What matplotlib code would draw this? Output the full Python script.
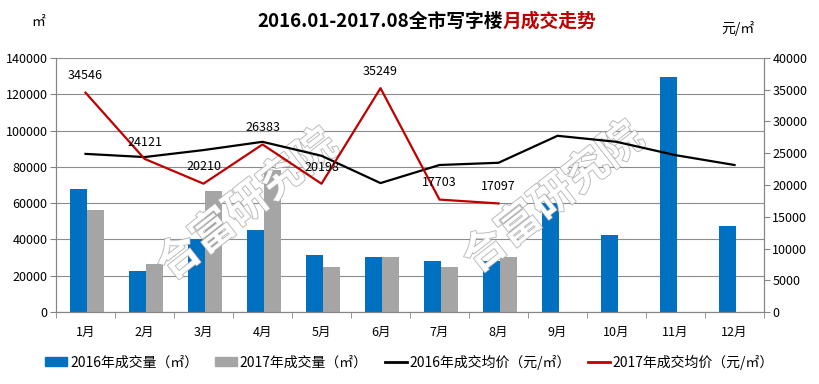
import matplotlib
matplotlib.use("Agg")
import matplotlib.pyplot as plt
import matplotlib.patheffects as pe
from matplotlib.lines import Line2D
from matplotlib.patches import Patch
import numpy as np

plt.rcParams['font.family'] = ['Noto Sans CJK SC', 'DejaVu Sans']

months = ['1月', '2月', '3月', '4月', '5月', '6月', '7月', '8月', '9月', '10月', '11月', '12月']
vol_2016 = [68000, 22800, 40000, 45200, 31400, 30300, 28100, 28100, 60000, 42400, 129500, 47400]
vol_2017 = [56200, 26400, 66700, 78200, 24800, 30300, 24800, 30300]
price_2016 = [24900, 24400, 25500, 26800, 24600, 20300, 23150, 23500, 27750, 26800, 24700, 23150]
price_2017 = [34546, 24121, 20210, 26383, 20198, 35249, 17703, 17097]

blue = '#0070C0'
grey = '#A5A5A5'
red = '#C00000'
axis_col = '#868686'

fig = plt.figure(figsize=(8.19, 3.84), dpi=100)
ax = fig.add_axes([56/819, 1 - 312/384, (764 - 56)/819, (312 - 58)/384])
ax2 = ax.twinx()

x = np.arange(len(months))
x17 = np.arange(len(vol_2017))
w = 0.29
ax.bar(x - w/2 + 0.02, vol_2016, width=w, color=blue, zorder=2)
ax.bar(x17 + w/2 + 0.02, vol_2017, width=w, color=grey, zorder=2)

ax.set_xlim(-0.5, 11.5)
ax.set_ylim(0, 140000)
ax.set_yticks(np.arange(0, 140001, 20000))
ax.yaxis.grid(True, color='#8c8c8c', linewidth=0.8, zorder=0)
ax.set_axisbelow(True)
ax.set_xticks(x)
ax.set_xticklabels(months, fontsize=9)
ax.set_xticks(np.arange(-0.5, 12, 1), minor=True)
ax.tick_params(axis='x', which='major', length=0, pad=10)
ax.tick_params(axis='x', which='minor', length=4, color=axis_col)
ax.tick_params(axis='y', length=4, color=axis_col, labelsize=9, pad=2)

# watermark: above bars, below the price lines
for cx, cy in [(247/819, 1 - 205/384), (553/819, 1 - 198/384)]:
    ax.text(cx, cy, '合富研究院', fontsize=31, rotation=38, ha='center', va='center',
            transform=fig.transFigure, color='white', alpha=0.9, zorder=5, fontweight='bold',
            path_effects=[pe.Stroke(linewidth=1.1, foreground='#a8a8a8'), pe.Normal()])

ax2.plot(x, price_2016, color='black', linewidth=1.6, zorder=3)
ax2.plot(x17, price_2017, color=red, linewidth=1.6, zorder=3)
ax2.set_ylim(0, 40000)
ax2.set_yticks(np.arange(0, 40001, 5000))
ax2.tick_params(axis='y', length=4, color=axis_col, labelsize=9, pad=2)
for xi, v in zip(x17, price_2017):
    ax2.annotate(str(v), (xi, v), xytext=(0, 12), textcoords='offset points',
                 ha='center', va='center', fontsize=9, color='black')

for a in (ax, ax2):
    a.spines['top'].set_visible(False)
    for s in ('left', 'right', 'bottom'):
        a.spines[s].set_color(axis_col)
        a.spines[s].set_linewidth(0.8)

# title
t1 = fig.text(257/819, 1 - 21/384, '2016.01-2017.08全市写字楼', fontsize=13.5, fontweight='bold',
              ha='left', va='center', color='black')
fig.canvas.draw()
bb = t1.get_window_extent()
fig.text(bb.x1 / fig.bbox.width, 1 - 21/384, '月成交走势', fontsize=13.5, fontweight='bold',
         ha='left', va='center', color=red)

fig.text(38/819, 1 - 22/384, '㎡', fontsize=10, ha='center', va='center')
fig.text(738/819, 1 - 29/384, '元/㎡', fontsize=10, ha='center', va='center')

handles = [Patch(color=blue), Patch(color=grey),
           Line2D([], [], color='black', linewidth=2), Line2D([], [], color=red, linewidth=2)]
labels = ['2016年成交量（㎡）', '2017年成交量（㎡）', '2016年成交均价（元/㎡）', '2017年成交均价（元/㎡）']
fig.legend(handles, labels, loc='center', bbox_to_anchor=(0.5, 1 - 362/384), ncol=4,
           frameon=False, fontsize=10, handlelength=1.6, handleheight=0.6,
           handletextpad=0.2, columnspacing=1.2)

fig.savefig('out.png', dpi=100)
